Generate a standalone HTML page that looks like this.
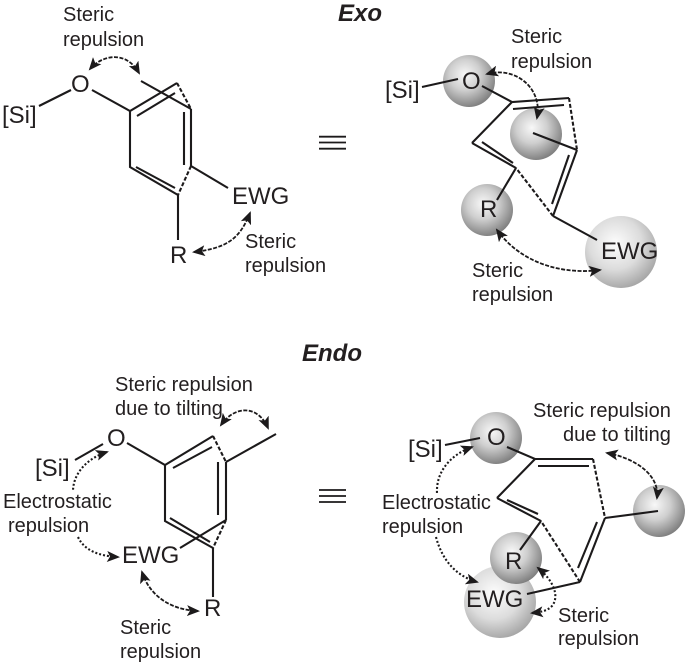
<!DOCTYPE html>
<html><head><meta charset="utf-8"><style>
html,body{margin:0;padding:0;background:#fff;width:685px;height:665px;overflow:hidden}
svg{display:block}
text{font-family:"Liberation Sans",sans-serif;fill:#231f20}
.l{font-size:24px}.s{font-size:20px}
.t{font-size:24px;font-weight:bold;font-style:italic}
.b{stroke:#1c1a1b;stroke-width:2.1;fill:none}
.d{stroke:#1c1a1b;stroke-width:2.1;fill:none;stroke-dasharray:4 2}
.a{stroke:#1c1a1b;stroke-width:1.8;fill:none;stroke-dasharray:4 1.5;marker-start:url(#h);marker-end:url(#h)}
.o{stroke:#1c1a1b;stroke-width:2.1;fill:none;stroke-dasharray:2 2;marker-start:url(#h);marker-end:url(#h)}
</style></head><body>
<svg width="685" height="665" viewBox="0 0 685 665" xmlns="http://www.w3.org/2000/svg">
<defs>
<marker id="h" viewBox="0 0 13 11" refX="11" refY="5.5" markerWidth="13" markerHeight="11" markerUnits="userSpaceOnUse" orient="auto-start-reverse"><path d="M0 0L13 5.5L0 11L3 5.5Z" fill="#1c1a1b"/></marker>
<radialGradient id="g1" cx="0.42" cy="0.38" r="0.66"><stop offset="0" stop-color="#f8f8f8"/><stop offset="0.45" stop-color="#cfcfcf"/><stop offset="1" stop-color="#797979"/></radialGradient>
<radialGradient id="g2" cx="0.42" cy="0.38" r="0.66"><stop offset="0" stop-color="#fdfdfd"/><stop offset="0.55" stop-color="#dcdcdc"/><stop offset="1" stop-color="#a2a2a2"/></radialGradient>
</defs>
<g style="filter:blur(.25px)">
<text class="t" x="338" y="21">Exo</text>
<text class="t" x="302" y="361">Endo</text>

<!-- top left -->
<path class="b" d="M39 106L71 90M92 90L130 111L177 83M137 116L175 93M191 109V166M184 112V165M178 195L130 167V111M136 167L175 188M141 81L191 109M191 166L228 188M178 195V240"/>
<path class="d" d="M177 83L191 109M191 166L178 195"/>
<path class="a" d="M90 69C102 55 126 50 139 73"/>
<path class="a" d="M250 213C240 238 228 248 194 252"/>
<text class="s" x="63" y="21">Steric</text><text class="s" x="63" y="46">repulsion</text>
<text class="l" x="2" y="123">[Si]</text><text class="l" x="71" y="92">O</text>
<text class="l" x="232" y="204">EWG</text><text class="l" x="170" y="263">R</text>
<text class="s" x="245" y="248">Steric</text><text class="s" x="245" y="272">repulsion</text>
<path class="b" d="M319 136.7H346M319 142.5H346M319 148.7H346" style="stroke-width:1.8"/>

<!-- top right -->
<circle cx="469" cy="81" r="26" fill="url(#g1)"/>
<circle cx="536" cy="134" r="26" fill="url(#g1)"/>
<circle cx="487" cy="210" r="26" fill="url(#g1)"/>
<circle cx="621" cy="252" r="36" fill="url(#g2)"/>
<path class="b" d="M422 87L458 79M482 86L512 102L569 98M513 109L564 105M577 150L533 133M577 150L553 216M569 155L552 204M553 216L597 240M516 168L472 143M482 142L513 163M472 143L512 102M516 168L497 200"/>
<path class="d" d="M569 98L577 150M553 216L516 168"/>
<path class="a" d="M487 74C515 66 543 88 537 118"/>
<path class="a" d="M497 230C520 262 560 275 600 270"/>
<text class="s" x="511" y="43">Steric</text><text class="s" x="511" y="68">repulsion</text>
<text class="l" x="385" y="98">[Si]</text><text class="l" x="462" y="89">O</text>
<text class="l" x="480" y="217">R</text><text class="l" x="601" y="259">EWG</text>
<text class="s" x="472" y="277">Steric</text><text class="s" x="472" y="301">repulsion</text>

<!-- bottom left -->
<path class="b" d="M75 460L103 444M127 443L165 465L213 436M173 468L212 447M226 462L276 434M226 462V520M218 462V515M213 548L165 521V465M170 518L210 542M226 520L180 548M213 548V597"/>
<path class="d" d="M213 436L226 462M226 520L213 548"/>
<path class="a" d="M221 425C235 405 258 405 268 428"/>
<path class="o" d="M107 452C88 458 74 472 73 490" style="marker-start:url(#h);marker-end:none"/>
<path class="o" d="M78 537C84 550 98 556 118 557" style="marker-start:none"/>
<path class="a" d="M142 572C150 597 172 610 198 611"/>
<text class="s" x="115" y="391">Steric repulsion</text><text class="s" x="115" y="415">due to tilting</text>
<text class="l" x="107" y="446">O</text><text class="l" x="35" y="476">[Si]</text>
<text class="s" x="3" y="508">Electrostatic</text><text class="s" x="8" y="532">repulsion</text>
<text class="l" x="122" y="563">EWG</text><text class="l" x="204" y="616">R</text>
<text class="s" x="120" y="634">Steric</text><text class="s" x="120" y="658">repulsion</text>
<path class="b" d="M319 490H346M319 496H346M319 502H346" style="stroke-width:1.8"/>

<!-- bottom right -->
<circle cx="496" cy="438" r="26" fill="url(#g1)"/>
<circle cx="659" cy="511" r="26" fill="url(#g1)"/>
<circle cx="500" cy="602" r="36" fill="url(#g2)"/>
<circle cx="516" cy="558" r="26" fill="url(#g1)"/>
<path class="b" d="M445 445L480 438M507 447L535 459H593M538 466H589M605 518L658 511M605 518L580 582M597 522L578 568M580 582L527 594M541 521L497 498M507 500L538 514M497 498L535 459M541 521L520 550"/>
<path class="d" d="M593 459L605 518M580 582L541 521"/>
<path class="a" d="M607 453C635 458 660 475 657 498"/>
<path class="o" d="M472 447C450 455 436 472 437 493" style="marker-end:none"/>
<path class="o" d="M436 537C442 560 456 576 477 582" style="marker-start:none"/>
<path class="o" d="M538 568C553 580 560 596 552 606C547 611 541 612 532 613"/>
<text class="s" x="533" y="417">Steric repulsion</text><text class="s" x="563" y="441">due to tilting</text>
<text class="l" x="408" y="457">[Si]</text><text class="l" x="487" y="445">O</text>
<text class="s" x="382" y="509">Electrostatic</text><text class="s" x="382" y="533">repulsion</text>
<text class="l" x="505" y="569">R</text><text class="l" x="466" y="607">EWG</text>
<text class="s" x="558" y="622">Steric</text><text class="s" x="558" y="645">repulsion</text>
</g>
</svg>
</body></html>
